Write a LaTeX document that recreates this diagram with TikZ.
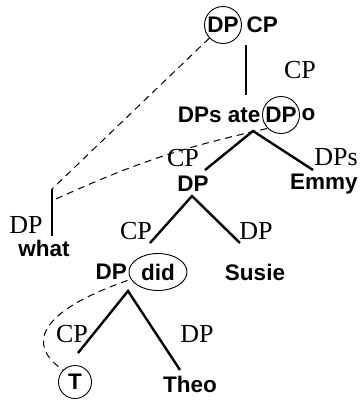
\documentclass[tikz,border=0pt]{standalone}
\usepackage{fontspec}
\setmainfont{Liberation Serif}
\newfontfamily\headfont{Liberation Sans}
\usetikzlibrary{positioning,shapes.geometric}

\tikzset{
  word/.style={font=\headfont\bfseries\fontsize{22.5}{22.5}\selectfont, inner sep=0.5pt},
  ringed/.style={word, draw, circle, inner sep=0pt, line width=0.9pt},
  oval/.style={word, draw, ellipse, inner sep=0pt, line width=0.9pt,
    minimum width=58pt, minimum height=37pt},
  lbl/.style={font=\fontsize{26}{26}\selectfont, inner sep=0.5pt},
  branch/.style={line width=2.4pt},
  trace/.style={line width=1pt, dash pattern=on 7pt off 5pt}
}

\begin{document}
\begin{tikzpicture}[x=1pt,y=-1pt]
  \useasboundingbox (0,0) rectangle (360,400);

  % top row
  \node[ringed, minimum size=37pt] (dp0) at (223,25) {DP};
  \node[word, right = 4pt of dp0] (cp0) {CP};
  \coordinate (s0) at (246,45);
  \coordinate (s1) at (246,95);
  \draw[branch] (s0) -- (s1);
  \node[lbl] (l0) at (300,70) {CP};

  % second row
  \node[ringed, minimum size=37pt] (dp1) at (281,115) {DP};
  \node[word, left = 1pt of dp1] (ate) {DPs ate};
  \node[word, right = 1pt of dp1] (o) {o};
  \coordinate (a0) at (253,131);
  \coordinate (a1) at (205,170);
  \coordinate (a2) at (313,170);
  \draw[branch] (a1) -- (a0) -- (a2);
  \node[lbl] (l1) at (183,158) {CP};
  \node[lbl] (l2) at (336,157) {DPs};

  % moved wh-word
  \coordinate (w0) at (52,189);
  \coordinate (w1) at (52,236);
  \coordinate (w2) at (56,199);
  \draw[branch] (w0) -- (w1);
  \node[lbl] (l3) at (26,225) {DP};
  \node[word] (what) at (44,248) {what};

  % third row
  \node[word] (dp2) at (193,184) {DP};
  \node[word] (emmy) at (324,184) {Emmy};
  \coordinate (b0) at (192,196);
  \coordinate (b1) at (150,243);
  \coordinate (b2) at (240,243);
  \draw[branch] (b1) -- (b0) -- (b2);
  \node[lbl] (l4) at (136,231) {CP};
  \node[lbl] (l5) at (256,231) {DP};

  % fourth row
  \node[oval] (did) at (158,272) {did};
  \node[word, left = 1pt of did] (dp3) {DP};
  \node[word] (susie) at (255,272) {Susie};
  \coordinate (c0) at (128,291);
  \coordinate (c1) at (78,353);
  \coordinate (c2) at (180,370);
  \draw[branch] (c1) -- (c0) -- (c2);
  \node[lbl] (l6) at (72,334) {CP};
  \node[lbl] (l7) at (197,334) {DP};

  % bottom row
  \node[ringed, minimum size=33pt] (t) at (75,382) {T};
  \node[word] (theo) at (190,384) {Theo};

  % traces
  \draw[trace] (dp0) -- (w0);
  \draw[trace] (w2) to[bend left=6] (dp1.south west);
  \draw[trace] (dp3.south east) .. controls (40,311) and (25,344) .. (t.north west);
\end{tikzpicture}
\end{document}
